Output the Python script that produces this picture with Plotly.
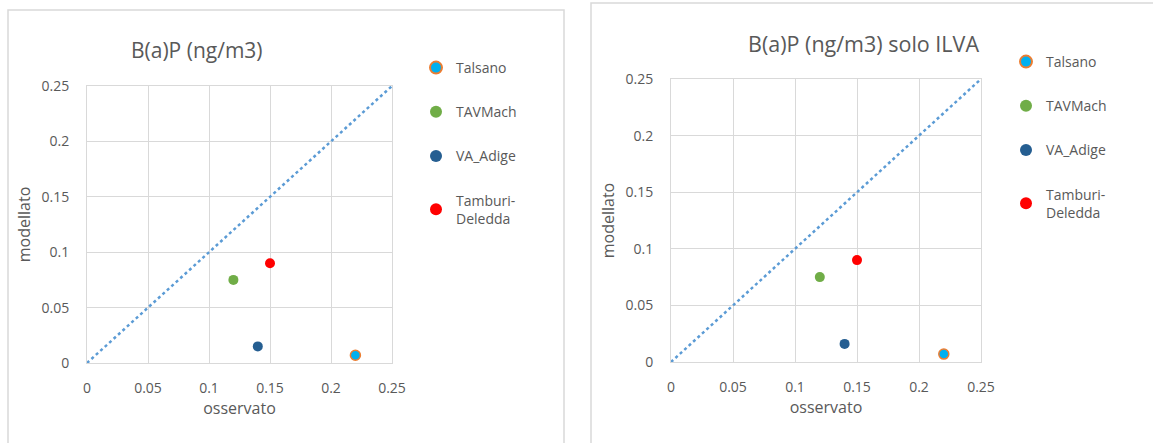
import plotly.graph_objects as go

# Observed vs modelled B(a)P concentrations (ng/m3) at the monitoring stations
stations = ["Talsano", "TAVMach", "VA_Adige", "Tamburi-<br>Deledda"]
osservato = [0.22, 0.12, 0.14, 0.15]
modellato_tot = [0.007, 0.075, 0.015, 0.09]
modellato_ilva = [0.007, 0.075, 0.016, 0.09]

# 1:1 reference line
diag_x = [0, 0.25]
diag_y = [0, 0.25]

tick_vals = [0, 0.05, 0.1, 0.15, 0.2, 0.25]
tick_text = ["0", "0.05", "0.1", "0.15", "0.2", "0.25"]

fill_colors = ["#00B0F0", "#70AD47", "#255E91", "#FF0000"]
edge_colors = ["#ED7D31", "#70AD47", "#255E91", "#FF0000"]
edge_widths = [1.5, 0, 0, 0]

W, H = 1153, 443
FONT = "Open Sans"
GREY = "#595959"
GRID = "#D9D9D9"


def px(x):
    """pixel column -> paper fraction"""
    return x / W


def py(y):
    """pixel row -> paper fraction"""
    return 1 - y / H


fig = go.Figure()

panels = [
    dict(xa="x", ya="y", legend="legend", values=modellato_tot),
    dict(xa="x2", ya="y2", legend="legend2", values=modellato_ilva),
]

for p in panels:
    fig.add_trace(go.Scatter(
        x=diag_x, y=diag_y, mode="lines",
        line=dict(color="#5B9BD5", width=2.5, dash="dot"),
        xaxis=p["xa"], yaxis=p["ya"], showlegend=False, hoverinfo="skip",
    ))
    for i, name in enumerate(stations):
        fig.add_trace(go.Scatter(
            x=[osservato[i]], y=[p["values"][i]], mode="markers", name=name,
            marker=dict(size=10, color=fill_colors[i],
                        line=dict(color=edge_colors[i], width=edge_widths[i])),
            xaxis=p["xa"], yaxis=p["ya"], legend=p["legend"],
            legendgroup=p["legend"] + str(i),
        ))

axis_common = dict(
    range=[0, 0.25], tickvals=tick_vals, ticktext=tick_text,
    showgrid=True, gridcolor=GRID, gridwidth=1,
    zeroline=False, showline=True, linecolor=GRID, linewidth=1, mirror=True,
    ticks="", tickfont=dict(family=FONT, size=14, color=GREY),
    fixedrange=True,
)
title_font = dict(family=FONT, size=16, color=GREY)

legend_common = dict(
    font=dict(family=FONT, size=14, color=GREY),
    bgcolor="rgba(0,0,0,0)", borderwidth=0,
    xanchor="left", yanchor="top", tracegroupgap=23,
    itemsizing="constant",
)

fig.update_layout(
    width=W, height=H,
    margin=dict(l=0, r=0, t=0, b=0, autoexpand=False),
    paper_bgcolor="white", plot_bgcolor="white",
    font=dict(family=FONT, color=GREY),
    xaxis=dict(axis_common, domain=[px(87), px(392)], anchor="y",
               ticklabelstandoff=12,
               title=dict(text="osservato", font=title_font, standoff=6)),
    yaxis=dict(axis_common, domain=[py(363), py(86)], anchor="x",
               ticklabelstandoff=14,
               title=dict(text="modellato", font=title_font, standoff=6)),
    xaxis2=dict(axis_common, domain=[px(671), px(981)], anchor="y2",
                ticklabelstandoff=12,
                title=dict(text="osservato", font=title_font, standoff=6)),
    yaxis2=dict(axis_common, domain=[py(362), py(79)], anchor="x2",
                ticklabelstandoff=14,
                title=dict(text="modellato", font=title_font, standoff=6)),
    legend=dict(legend_common, x=px(416), y=py(52)),
    legend2=dict(legend_common, x=px(1006), y=py(46)),
    showlegend=True,
    annotations=[
        dict(text="B(a)P (ng/m3)", x=px(197), y=py(50), xref="paper", yref="paper",
             xanchor="center", yanchor="middle", showarrow=False,
             font=dict(family=FONT, size=21, color=GREY)),
        dict(text="B(a)P (ng/m3) solo ILVA", x=px(863), y=py(44), xref="paper", yref="paper",
             xanchor="center", yanchor="middle", showarrow=False,
             font=dict(family=FONT, size=21.5, color=GREY)),
    ],
    shapes=[
        dict(type="rect", xref="paper", yref="paper",
             x0=px(8), x1=px(564), y0=py(460), y1=py(10),
             line=dict(color=GRID, width=1.5), fillcolor="rgba(0,0,0,0)", layer="below"),
        dict(type="rect", xref="paper", yref="paper",
             x0=px(591), x1=px(1170), y0=py(460), y1=py(3),
             line=dict(color=GRID, width=1.5), fillcolor="rgba(0,0,0,0)", layer="below"),
    ],
)

fig.write_html("out.html")
